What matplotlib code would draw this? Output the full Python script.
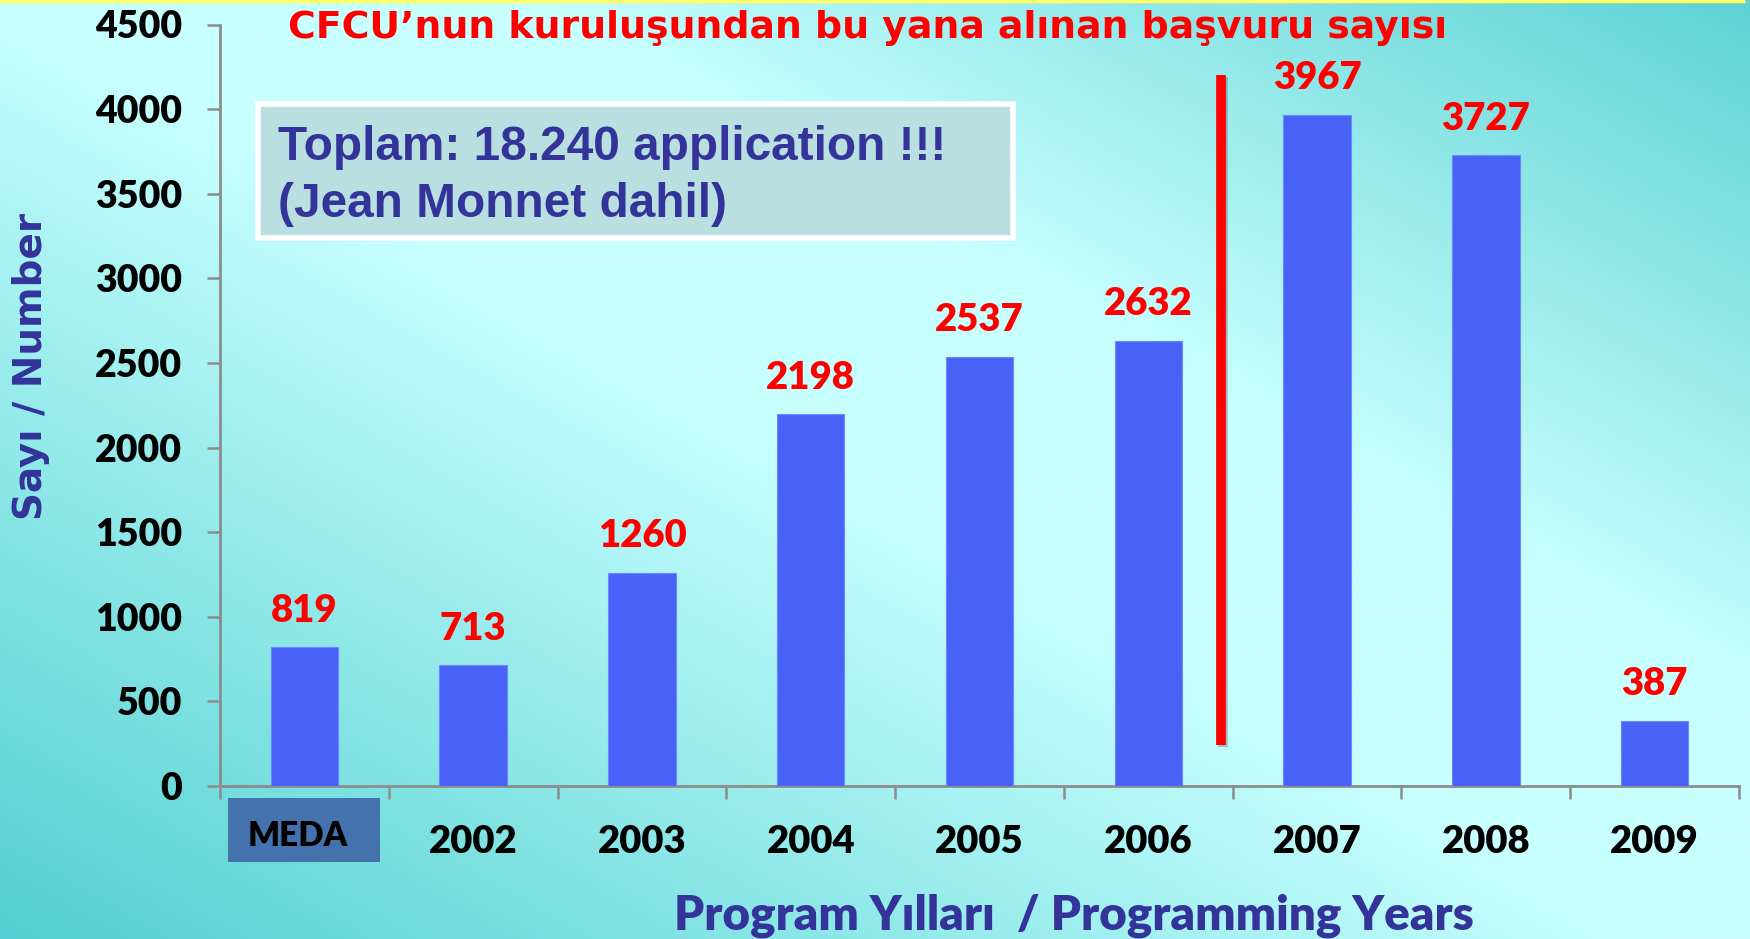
import numpy as np
import matplotlib
matplotlib.use("Agg")
import matplotlib.pyplot as plt
from matplotlib.patches import Rectangle
from matplotlib.transforms import ScaledTranslation
import matplotlib.patheffects as pe

categories = ["MEDA", "2002", "2003", "2004", "2005", "2006", "2007", "2008", "2009"]
values = [819, 713, 1260, 2198, 2537, 2632, 3967, 3727, 387]
yticks = [0, 500, 1000, 1500, 2000, 2500, 3000, 3500, 4000, 4500]

title = "CFCU\u2019nun kuruluşundan bu yana alınan başvuru sayısı"
box_text = "Toplam: 18.240 application !!!\n(Jean Monnet dahil)"
ylabel = "Sayı / Number"
xlabel = "Program Yılları  / Programming Years"

NUMW = "heavy"

W, H = 1750, 939
fig = plt.figure(figsize=(W / 100, H / 100), dpi=100)

# background gradient
bg = fig.add_axes([0, 0, 1, 1], zorder=-10)
bg.set_axis_off()
xx, yy = np.meshgrid(np.linspace(0, 1, 350), np.linspace(1, 0, 190))
u = xx * 1.0 + yy * 0.95
teal_bl = np.array([0x52, 0xcf, 0xd0]) / 255
teal_tr = np.array([0x5e, 0xd2, 0xd3]) / 255
light = np.array([0xc8, 0xff, 0xff]) / 255
img = np.zeros(u.shape + (3,))
f1 = np.clip(u / 0.95, 0, 1)
f2 = np.clip((u - 1.25) / 0.7, 0, 1)
for c in range(3):
    base = teal_bl[c] + (light[c] - teal_bl[c]) * f1
    img[..., c] = np.where(u < 1.25, base, light[c] + (teal_tr[c] - light[c]) * f2)
bg.imshow(img, extent=[0, 1, 0, 1], aspect="auto", interpolation="bilinear")
bg.set_xlim(0, 1); bg.set_ylim(0, 1)
bg.plot([0, 0.997], [0.9985, 0.9985], color="#ffff66", lw=2.5, solid_capstyle="butt")

ax = fig.add_axes([220 / W, 1 - 786 / H, (1739 - 220) / W, (786 - 24.5) / H])
ax.patch.set_alpha(0)
x = np.arange(len(categories))
ax.bar(x, values, width=0.4, color="#4862f8", edgecolor="#6f86ff", linewidth=0.8, zorder=3)
ax.set_xlim(-0.5, len(categories) - 0.5)
ax.set_ylim(0, 4500)

for s in ["top", "right"]:
    ax.spines[s].set_visible(False)
for s in ["left", "bottom"]:
    ax.spines[s].set_color("#8c8c8c")
    ax.spines[s].set_linewidth(2)

ax.set_yticks(yticks)
ax.set_yticklabels([str(t) for t in yticks], fontfamily="Lato", fontweight=NUMW, fontsize=27, color="black")
ax.tick_params(axis="y", length=9.5, width=1.8, color="#8c8c8c", pad=18)

ax.set_xticks(x)
ax.set_xticklabels(categories, fontfamily="Lato", fontweight=NUMW, fontsize=27.5, color="black")
ax.set_xticks(np.arange(len(categories) + 1) - 0.5, minor=True)
ax.tick_params(axis="x", which="major", length=0, pad=28)
ax.tick_params(axis="x", which="minor", length=9.5, width=1.8, color="#8c8c8c")

# MEDA label box
lab0 = ax.get_xticklabels()[0]
lab0.set_fontsize(24)
lab0.set_transform(lab0.get_transform() + ScaledTranslation(-0.07, 0.05, fig.dpi_scale_trans))
ax.add_patch(Rectangle((-0.45, -0.0998), 0.9, 0.084, transform=ax.get_xaxis_transform(),
                       facecolor="#4472ac", edgecolor="none", clip_on=False, zorder=1))

# value labels
for xi, v in zip(x, values):
    ax.annotate(str(v), (xi, v), xytext=(0, 14), textcoords="offset points",
                ha="center", va="bottom", fontfamily="Lato", fontweight=NUMW,
                fontsize=27.5, color="#ff0000", zorder=5)

# red separator line
ax.plot([5.43, 5.43], [244, 4200], color="#ff0000", lw=7, solid_capstyle="butt", zorder=4,
        path_effects=[pe.SimpleLineShadow(offset=(1.5, -1.5), shadow_color="#555555", alpha=0.35), pe.Normal()])

# title
fig.text(868 / W, 1 - 28.5 / H, title, ha="center", va="center", fontfamily="DejaVu Sans",
         fontweight="bold", fontsize=27.3, color="#ff0000")

# info box
ax.add_patch(Rectangle((258 / W, 1 - 238 / H), (1013 - 258) / W, (238 - 104) / H, transform=fig.transFigure,
                       facecolor="#b9dfe1", edgecolor="white", linewidth=4, zorder=6, clip_on=False))
fig.text(278 / W, 1 - 176 / H, box_text, ha="left", va="center", fontfamily="Liberation Sans",
         fontweight="bold", fontsize=34.4, color="#333399", linespacing=1.36, zorder=7)

# axis labels
fig.text(31 / W, 1 - 366 / H, ylabel, rotation=90, ha="center", va="center", fontfamily="DejaVu Sans",
         fontweight="bold", fontsize=28, color="#333399")
fig.text(1074 / W, 1 - 916 / H, xlabel, ha="center", va="center", fontfamily="Lato",
         fontweight=NUMW, fontsize=34.3, color="#333399")

fig.savefig("out.png", dpi=100)
